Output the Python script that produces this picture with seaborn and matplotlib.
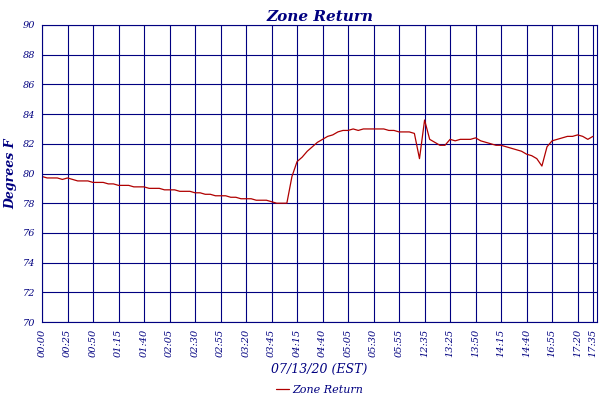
import matplotlib
matplotlib.use("Agg")
import matplotlib.pyplot as plt
import seaborn as sns
import pandas as pd

values = [79.8,79.7,79.7,79.7,79.6,79.7,79.6,79.5,79.5,79.5,
          79.4,79.4,79.4,79.3,79.3,79.2,79.2,79.2,79.1,79.1,
          79.1,79.0,79.0,79.0,78.9,78.9,78.9,78.8,78.8,78.8,
          78.7,78.7,78.6,78.6,78.5,78.5,78.5,78.4,78.4,78.3,
          78.3,78.3,78.2,78.2,78.2,78.1,78.0,78.0,78.0,79.8,
          80.8,81.1,81.5,81.8,82.1,82.3,82.5,82.6,82.8,82.9,
          82.9,83.0,82.9,83.0,83.0,83.0,83.0,83.0,82.9,82.9,
          82.8,82.8,82.8,82.7,81.0,83.6,82.3,82.1,81.9,81.9,
          82.3,82.2,82.3,82.3,82.3,82.4,82.2,82.1,82.0,81.9,
          81.9,81.8,81.7,81.6,81.5,81.3,81.2,81.0,80.5,81.8,
          82.2,82.3,82.4,82.5,82.5,82.6,82.5,82.3,82.5]
tick_labels = ["00:00","00:25","00:50","01:15","01:40","02:05","02:30","02:55",
               "03:20","03:45","04:15","04:40","05:05","05:30","05:55","12:35",
               "13:25","13:50","14:15","14:40","16:55","17:20","17:35"]
tick_pos = list(range(0, 106, 5)) + [108]

df = pd.DataFrame({"idx": range(len(values)), "temp": values})
navy = "#000080"
sns.set_style("white")
plt.rcParams['font.family'] = ['DejaVu Serif']
fig = plt.figure(figsize=(6, 4), dpi=100)
ax = fig.add_axes([42/600, 78/400, 555/600, 297/400])
sns.lineplot(data=df, x="idx", y="temp", ax=ax, color="#b00000", lw=0.9, label="Zone Return")
ax.set_xlim(0, 108.8)
ax.set_ylim(70, 90)
ax.set_yticks(range(70, 91, 2))
ax.set_xticks(tick_pos)
ax.set_xticklabels(tick_labels, rotation=90, fontsize=7, style="italic", color=navy)
for t in ax.get_yticklabels():
    t.set_fontsize(7); t.set_style("italic"); t.set_color(navy)
ax.tick_params(colors=navy, length=3, pad=2)
ax.grid(True, color=navy, lw=0.8)
for s in ax.spines.values():
    s.set_color(navy)
ax.set_title("Zone Return", color=navy, style="italic", fontsize=11, fontweight="bold", pad=3)
ax.set_xlabel("07/13/20 (EST)", color=navy, style="italic", fontsize=9, labelpad=4)
ax.set_ylabel("Degrees F", color=navy, style="italic", fontsize=9, fontweight="bold", labelpad=4)
leg = ax.legend(loc="center", bbox_to_anchor=(0.5, -0.228), frameon=False, fontsize=8,
                handlelength=1.2, handletextpad=0.3, borderpad=0)
for t in leg.get_texts():
    t.set_color(navy); t.set_style("italic")
fig.savefig("out.png", dpi=100, facecolor="white")
